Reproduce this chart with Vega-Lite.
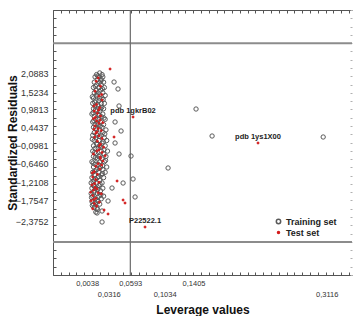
{
  "$schema": "https://vega.github.io/schema/vega-lite/v6.json",
  "width": 299,
  "height": 265,
  "autosize": {"type": "none"},
  "padding": {"left": 53, "top": 10, "right": 5, "bottom": 41},
  "background": "white",
  "config": {
    "view": {"stroke": null},
    "font": "Liberation Sans",
    "axis": {"grid": false}
  },
  "datasets": {
    "limits": [{"r": 3}, {"r": -3}],
    "hstar": [{"h": 0.0593}],
    "points": [
      {"lev": 0.020, "res": 2.10, "set": "Training set"},
      {"lev": 0.016, "res": 2.05, "set": "Training set"},
      {"lev": 0.023, "res": 2.05, "set": "Training set"},
      {"lev": 0.014, "res": 1.98, "set": "Training set"},
      {"lev": 0.019, "res": 1.98, "set": "Training set"},
      {"lev": 0.024, "res": 1.98, "set": "Training set"},
      {"lev": 0.017, "res": 1.90, "set": "Training set"},
      {"lev": 0.022, "res": 1.90, "set": "Training set"},
      {"lev": 0.013, "res": 1.82, "set": "Training set"},
      {"lev": 0.020, "res": 1.82, "set": "Training set"},
      {"lev": 0.025, "res": 1.82, "set": "Training set"},
      {"lev": 0.016, "res": 1.74, "set": "Training set"},
      {"lev": 0.022, "res": 1.74, "set": "Training set"},
      {"lev": 0.012, "res": 1.66, "set": "Training set"},
      {"lev": 0.019, "res": 1.66, "set": "Training set"},
      {"lev": 0.026, "res": 1.66, "set": "Training set"},
      {"lev": 0.015, "res": 1.58, "set": "Training set"},
      {"lev": 0.021, "res": 1.58, "set": "Training set"},
      {"lev": 0.013, "res": 1.50, "set": "Training set"},
      {"lev": 0.018, "res": 1.50, "set": "Training set"},
      {"lev": 0.024, "res": 1.50, "set": "Training set"},
      {"lev": 0.016, "res": 1.42, "set": "Training set"},
      {"lev": 0.027, "res": 1.42, "set": "Training set"},
      {"lev": 0.012, "res": 1.34, "set": "Training set"},
      {"lev": 0.020, "res": 1.34, "set": "Training set"},
      {"lev": 0.023, "res": 1.34, "set": "Training set"},
      {"lev": 0.015, "res": 1.26, "set": "Training set"},
      {"lev": 0.019, "res": 1.26, "set": "Training set"},
      {"lev": 0.011, "res": 1.18, "set": "Training set"},
      {"lev": 0.022, "res": 1.18, "set": "Training set"},
      {"lev": 0.026, "res": 1.18, "set": "Training set"},
      {"lev": 0.014, "res": 1.10, "set": "Training set"},
      {"lev": 0.018, "res": 1.10, "set": "Training set"},
      {"lev": 0.012, "res": 1.02, "set": "Training set"},
      {"lev": 0.021, "res": 1.02, "set": "Training set"},
      {"lev": 0.025, "res": 1.02, "set": "Training set"},
      {"lev": 0.016, "res": 0.94, "set": "Training set"},
      {"lev": 0.020, "res": 0.94, "set": "Training set"},
      {"lev": 0.010, "res": 0.86, "set": "Training set"},
      {"lev": 0.018, "res": 0.86, "set": "Training set"},
      {"lev": 0.024, "res": 0.86, "set": "Training set"},
      {"lev": 0.013, "res": 0.78, "set": "Training set"},
      {"lev": 0.022, "res": 0.78, "set": "Training set"},
      {"lev": 0.015, "res": 0.70, "set": "Training set"},
      {"lev": 0.019, "res": 0.70, "set": "Training set"},
      {"lev": 0.027, "res": 0.70, "set": "Training set"},
      {"lev": 0.011, "res": 0.62, "set": "Training set"},
      {"lev": 0.021, "res": 0.62, "set": "Training set"},
      {"lev": 0.014, "res": 0.54, "set": "Training set"},
      {"lev": 0.018, "res": 0.54, "set": "Training set"},
      {"lev": 0.025, "res": 0.54, "set": "Training set"},
      {"lev": 0.012, "res": 0.46, "set": "Training set"},
      {"lev": 0.023, "res": 0.46, "set": "Training set"},
      {"lev": 0.016, "res": 0.38, "set": "Training set"},
      {"lev": 0.020, "res": 0.38, "set": "Training set"},
      {"lev": 0.028, "res": 0.38, "set": "Training set"},
      {"lev": 0.013, "res": 0.30, "set": "Training set"},
      {"lev": 0.024, "res": 0.30, "set": "Training set"},
      {"lev": 0.011, "res": 0.22, "set": "Training set"},
      {"lev": 0.017, "res": 0.22, "set": "Training set"},
      {"lev": 0.022, "res": 0.22, "set": "Training set"},
      {"lev": 0.015, "res": 0.14, "set": "Training set"},
      {"lev": 0.026, "res": 0.14, "set": "Training set"},
      {"lev": 0.013, "res": 0.06, "set": "Training set"},
      {"lev": 0.019, "res": 0.06, "set": "Training set"},
      {"lev": 0.029, "res": 0.06, "set": "Training set"},
      {"lev": 0.016, "res": -0.02, "set": "Training set"},
      {"lev": 0.023, "res": -0.02, "set": "Training set"},
      {"lev": 0.012, "res": -0.10, "set": "Training set"},
      {"lev": 0.020, "res": -0.10, "set": "Training set"},
      {"lev": 0.027, "res": -0.10, "set": "Training set"},
      {"lev": 0.014, "res": -0.18, "set": "Training set"},
      {"lev": 0.018, "res": -0.18, "set": "Training set"},
      {"lev": 0.011, "res": -0.26, "set": "Training set"},
      {"lev": 0.022, "res": -0.26, "set": "Training set"},
      {"lev": 0.030, "res": -0.26, "set": "Training set"},
      {"lev": 0.015, "res": -0.34, "set": "Training set"},
      {"lev": 0.025, "res": -0.34, "set": "Training set"},
      {"lev": 0.012, "res": -0.42, "set": "Training set"},
      {"lev": 0.019, "res": -0.42, "set": "Training set"},
      {"lev": 0.028, "res": -0.42, "set": "Training set"},
      {"lev": 0.017, "res": -0.50, "set": "Training set"},
      {"lev": 0.023, "res": -0.50, "set": "Training set"},
      {"lev": 0.010, "res": -0.58, "set": "Training set"},
      {"lev": 0.020, "res": -0.58, "set": "Training set"},
      {"lev": 0.026, "res": -0.58, "set": "Training set"},
      {"lev": 0.014, "res": -0.66, "set": "Training set"},
      {"lev": 0.018, "res": -0.66, "set": "Training set"},
      {"lev": 0.012, "res": -0.74, "set": "Training set"},
      {"lev": 0.021, "res": -0.74, "set": "Training set"},
      {"lev": 0.029, "res": -0.74, "set": "Training set"},
      {"lev": 0.016, "res": -0.82, "set": "Training set"},
      {"lev": 0.024, "res": -0.82, "set": "Training set"},
      {"lev": 0.011, "res": -0.90, "set": "Training set"},
      {"lev": 0.019, "res": -0.90, "set": "Training set"},
      {"lev": 0.027, "res": -0.90, "set": "Training set"},
      {"lev": 0.014, "res": -0.98, "set": "Training set"},
      {"lev": 0.022, "res": -0.98, "set": "Training set"},
      {"lev": 0.010, "res": -1.06, "set": "Training set"},
      {"lev": 0.017, "res": -1.06, "set": "Training set"},
      {"lev": 0.025, "res": -1.06, "set": "Training set"},
      {"lev": 0.013, "res": -1.14, "set": "Training set"},
      {"lev": 0.020, "res": -1.14, "set": "Training set"},
      {"lev": 0.009, "res": -1.22, "set": "Training set"},
      {"lev": 0.016, "res": -1.22, "set": "Training set"},
      {"lev": 0.023, "res": -1.22, "set": "Training set"},
      {"lev": 0.012, "res": -1.30, "set": "Training set"},
      {"lev": 0.019, "res": -1.30, "set": "Training set"},
      {"lev": 0.010, "res": -1.38, "set": "Training set"},
      {"lev": 0.015, "res": -1.38, "set": "Training set"},
      {"lev": 0.024, "res": -1.38, "set": "Training set"},
      {"lev": 0.013, "res": -1.46, "set": "Training set"},
      {"lev": 0.021, "res": -1.46, "set": "Training set"},
      {"lev": 0.009, "res": -1.54, "set": "Training set"},
      {"lev": 0.017, "res": -1.54, "set": "Training set"},
      {"lev": 0.011, "res": -1.62, "set": "Training set"},
      {"lev": 0.019, "res": -1.62, "set": "Training set"},
      {"lev": 0.025, "res": -1.62, "set": "Training set"},
      {"lev": 0.014, "res": -1.70, "set": "Training set"},
      {"lev": 0.022, "res": -1.70, "set": "Training set"},
      {"lev": 0.010, "res": -1.78, "set": "Training set"},
      {"lev": 0.018, "res": -1.78, "set": "Training set"},
      {"lev": 0.012, "res": -1.86, "set": "Training set"},
      {"lev": 0.020, "res": -1.86, "set": "Training set"},
      {"lev": 0.013, "res": -1.96, "set": "Training set"},
      {"lev": 0.017, "res": -2.02, "set": "Training set"},
      {"lev": 0.015, "res": -2.10, "set": "Training set"},
      {"lev": 0.0175, "res": 2.01, "set": "Training set"},
      {"lev": 0.0215, "res": 1.86, "set": "Training set"},
      {"lev": 0.0145, "res": 1.70, "set": "Training set"},
      {"lev": 0.0235, "res": 1.62, "set": "Training set"},
      {"lev": 0.0165, "res": 1.46, "set": "Training set"},
      {"lev": 0.0105, "res": 1.38, "set": "Training set"},
      {"lev": 0.0245, "res": 1.30, "set": "Training set"},
      {"lev": 0.0135, "res": 1.22, "set": "Training set"},
      {"lev": 0.0175, "res": 1.14, "set": "Training set"},
      {"lev": 0.0225, "res": 1.06, "set": "Training set"},
      {"lev": 0.0145, "res": 0.98, "set": "Training set"},
      {"lev": 0.0115, "res": 0.90, "set": "Training set"},
      {"lev": 0.0195, "res": 0.82, "set": "Training set"},
      {"lev": 0.0255, "res": 0.74, "set": "Training set"},
      {"lev": 0.0125, "res": 0.66, "set": "Training set"},
      {"lev": 0.0175, "res": 0.58, "set": "Training set"},
      {"lev": 0.0205, "res": 0.50, "set": "Training set"},
      {"lev": 0.0145, "res": 0.42, "set": "Training set"},
      {"lev": 0.0265, "res": 0.26, "set": "Training set"},
      {"lev": 0.0195, "res": 0.18, "set": "Training set"},
      {"lev": 0.0105, "res": 0.10, "set": "Training set"},
      {"lev": 0.0245, "res": 0.02, "set": "Training set"},
      {"lev": 0.0165, "res": -0.06, "set": "Training set"},
      {"lev": 0.0215, "res": -0.14, "set": "Training set"},
      {"lev": 0.0255, "res": -0.22, "set": "Training set"},
      {"lev": 0.0135, "res": -0.30, "set": "Training set"},
      {"lev": 0.0205, "res": -0.38, "set": "Training set"},
      {"lev": 0.0145, "res": -0.46, "set": "Training set"},
      {"lev": 0.0275, "res": -0.54, "set": "Training set"},
      {"lev": 0.0115, "res": -0.62, "set": "Training set"},
      {"lev": 0.0235, "res": -0.70, "set": "Training set"},
      {"lev": 0.0195, "res": -0.78, "set": "Training set"},
      {"lev": 0.0135, "res": -0.86, "set": "Training set"},
      {"lev": 0.0235, "res": -0.94, "set": "Training set"},
      {"lev": 0.0185, "res": -1.02, "set": "Training set"},
      {"lev": 0.0145, "res": -1.10, "set": "Training set"},
      {"lev": 0.0115, "res": -1.18, "set": "Training set"},
      {"lev": 0.0205, "res": -1.26, "set": "Training set"},
      {"lev": 0.0135, "res": -1.34, "set": "Training set"},
      {"lev": 0.0175, "res": -1.42, "set": "Training set"},
      {"lev": 0.0125, "res": -1.50, "set": "Training set"},
      {"lev": 0.0215, "res": -1.58, "set": "Training set"},
      {"lev": 0.0095, "res": -1.66, "set": "Training set"},
      {"lev": 0.0165, "res": -1.74, "set": "Training set"},
      {"lev": 0.0145, "res": -1.82, "set": "Training set"},
      {"lev": 0.0105, "res": -1.90, "set": "Training set"},
      {"lev": 0.0384, "res": 1.826, "set": "Training set"},
      {"lev": 0.0435, "res": 1.615, "set": "Training set"},
      {"lev": 0.0448, "res": 1.102, "set": "Training set"},
      {"lev": 0.0397, "res": 0.619, "set": "Training set"},
      {"lev": 0.0474, "res": 0.347, "set": "Training set"},
      {"lev": 0.0397, "res": -0.015, "set": "Training set"},
      {"lev": 0.0448, "res": -0.347, "set": "Training set"},
      {"lev": 0.0602, "res": -0.408, "set": "Training set"},
      {"lev": 0.1078, "res": -0.770, "set": "Training set"},
      {"lev": 0.0628, "res": -1.102, "set": "Training set"},
      {"lev": 0.0500, "res": -1.223, "set": "Training set"},
      {"lev": 0.0358, "res": -1.374, "set": "Training set"},
      {"lev": 0.0654, "res": -1.645, "set": "Training set"},
      {"lev": 0.0307, "res": -1.766, "set": "Training set"},
      {"lev": 0.0166, "res": -1.977, "set": "Training set"},
      {"lev": 0.0166, "res": -2.128, "set": "Training set"},
      {"lev": 0.0230, "res": -2.068, "set": "Training set"},
      {"lev": 0.0230, "res": -2.400, "set": "Training set"},
      {"lev": 0.1437, "res": 1.011, "set": "Training set"},
      {"lev": 0.1643, "res": 0.196, "set": "Training set"},
      {"lev": 0.3070, "res": 0.166, "set": "Training set"},
      {"lev": 0.018, "res": 1.95, "set": "Test set"},
      {"lev": 0.021, "res": 1.70, "set": "Test set"},
      {"lev": 0.014, "res": 1.55, "set": "Test set"},
      {"lev": 0.019, "res": 1.40, "set": "Test set"},
      {"lev": 0.023, "res": 1.28, "set": "Test set"},
      {"lev": 0.016, "res": 1.15, "set": "Test set"},
      {"lev": 0.020, "res": 1.05, "set": "Test set"},
      {"lev": 0.013, "res": 0.95, "set": "Test set"},
      {"lev": 0.017, "res": 0.88, "set": "Test set"},
      {"lev": 0.021, "res": 0.80, "set": "Test set"},
      {"lev": 0.012, "res": 0.72, "set": "Test set"},
      {"lev": 0.016, "res": 0.65, "set": "Test set"},
      {"lev": 0.019, "res": 0.58, "set": "Test set"},
      {"lev": 0.024, "res": 0.60, "set": "Test set"},
      {"lev": 0.014, "res": 0.50, "set": "Test set"},
      {"lev": 0.018, "res": 0.42, "set": "Test set"},
      {"lev": 0.022, "res": 0.36, "set": "Test set"},
      {"lev": 0.015, "res": 0.28, "set": "Test set"},
      {"lev": 0.019, "res": 0.20, "set": "Test set"},
      {"lev": 0.023, "res": 0.12, "set": "Test set"},
      {"lev": 0.017, "res": 0.04, "set": "Test set"},
      {"lev": 0.021, "res": -0.05, "set": "Test set"},
      {"lev": 0.025, "res": -0.14, "set": "Test set"},
      {"lev": 0.019, "res": -0.22, "set": "Test set"},
      {"lev": 0.023, "res": -0.30, "set": "Test set"},
      {"lev": 0.012, "res": -0.35, "set": "Test set"},
      {"lev": 0.027, "res": -0.40, "set": "Test set"},
      {"lev": 0.021, "res": -0.48, "set": "Test set"},
      {"lev": 0.024, "res": -0.56, "set": "Test set"},
      {"lev": 0.018, "res": -0.64, "set": "Test set"},
      {"lev": 0.015, "res": -0.72, "set": "Test set"},
      {"lev": 0.020, "res": -0.80, "set": "Test set"},
      {"lev": 0.013, "res": -0.88, "set": "Test set"},
      {"lev": 0.017, "res": -0.96, "set": "Test set"},
      {"lev": 0.011, "res": -1.04, "set": "Test set"},
      {"lev": 0.015, "res": -1.12, "set": "Test set"},
      {"lev": 0.019, "res": -1.20, "set": "Test set"},
      {"lev": 0.010, "res": -1.28, "set": "Test set"},
      {"lev": 0.014, "res": -1.36, "set": "Test set"},
      {"lev": 0.012, "res": -1.44, "set": "Test set"},
      {"lev": 0.018, "res": -1.52, "set": "Test set"},
      {"lev": 0.022, "res": -1.55, "set": "Test set"},
      {"lev": 0.011, "res": -1.60, "set": "Test set"},
      {"lev": 0.015, "res": -1.68, "set": "Test set"},
      {"lev": 0.009, "res": -1.76, "set": "Test set"},
      {"lev": 0.013, "res": -1.84, "set": "Test set"},
      {"lev": 0.016, "res": -1.92, "set": "Test set"},
      {"lev": 0.011, "res": -2.00, "set": "Test set"},
      {"lev": 0.0155, "res": 1.85, "set": "Test set"},
      {"lev": 0.0225, "res": 1.45, "set": "Test set"},
      {"lev": 0.0125, "res": 1.10, "set": "Test set"},
      {"lev": 0.0185, "res": 0.98, "set": "Test set"},
      {"lev": 0.0145, "res": 0.76, "set": "Test set"},
      {"lev": 0.0205, "res": 0.68, "set": "Test set"},
      {"lev": 0.0125, "res": 0.40, "set": "Test set"},
      {"lev": 0.0165, "res": 0.32, "set": "Test set"},
      {"lev": 0.0135, "res": 0.16, "set": "Test set"},
      {"lev": 0.0195, "res": -0.10, "set": "Test set"},
      {"lev": 0.0165, "res": -0.26, "set": "Test set"},
      {"lev": 0.0205, "res": -0.44, "set": "Test set"},
      {"lev": 0.0225, "res": -0.68, "set": "Test set"},
      {"lev": 0.0105, "res": -0.92, "set": "Test set"},
      {"lev": 0.0135, "res": -1.24, "set": "Test set"},
      {"lev": 0.0165, "res": -1.40, "set": "Test set"},
      {"lev": 0.0085, "res": -1.50, "set": "Test set"},
      {"lev": 0.0125, "res": -1.72, "set": "Test set"},
      {"lev": 0.0195, "res": -1.80, "set": "Test set"},
      {"lev": 0.0333, "res": 2.219, "set": "Test set"},
      {"lev": 0.0384, "res": 0.166, "set": "Test set"},
      {"lev": 0.0628, "res": 0.770, "set": "Test set", "label": "pdb 1gkrB02"},
      {"lev": 0.0423, "res": -1.162, "set": "Test set"},
      {"lev": 0.0500, "res": -1.736, "set": "Test set"},
      {"lev": 0.0525, "res": -1.826, "set": "Test set"},
      {"lev": 0.0256, "res": -2.038, "set": "Test set"},
      {"lev": 0.0307, "res": -2.158, "set": "Test set"},
      {"lev": 0.0782, "res": -2.551, "set": "Test set", "label": "P22522.1"},
      {"lev": 0.2233, "res": -0.015, "set": "Test set", "label": "pdb 1ys1X00"}
    ]
  },
  "layer": [
    {
      "data": {"name": "limits"},
      "mark": {"type": "rule", "color": "#8c8c8c", "strokeWidth": 2},
      "encoding": {
        "y": {
          "field": "r", "type": "quantitative",
          "scale": {"domain": [-4, 4], "nice": false, "zero": false},
          "axis": {
            "orient": "right", "title": null, "labels": false, "domain": false,
            "tickColor": "#b0b0b0", "tickSize": -2,
            "values": [-4, -3.75, -3.5, -3.25, -3, -2.75, -2.5, -2.25, -2, -1.75, -1.5, -1.25, -1, -0.75, -0.5, -0.25, 0, 0.25, 0.5, 0.75, 1, 1.25, 1.5, 1.75, 2, 2.25, 2.5, 2.75, 3, 3.25, 3.5, 3.75, 4]
          }
        }
      }
    },
    {
      "data": {"name": "hstar"},
      "mark": {"type": "rule", "color": "#6a6a6a", "strokeWidth": 1.2},
      "encoding": {
        "x": {
          "field": "h", "type": "quantitative",
          "scale": {"domain": [-0.04, 0.344], "nice": false, "zero": false},
          "axis": {
            "orient": "top", "title": null, "labels": false,
            "domainColor": "#555", "tickColor": "#555", "tickSize": -3,
            "values": [-0.04, -0.03, -0.02, -0.01, 0, 0.01, 0.02, 0.03, 0.04, 0.05, 0.06, 0.07, 0.08, 0.09, 0.1, 0.11, 0.12, 0.13, 0.14, 0.15, 0.16, 0.17, 0.18, 0.19, 0.2, 0.21, 0.22, 0.23, 0.24, 0.25, 0.26, 0.27, 0.28, 0.29, 0.3, 0.31, 0.32, 0.33, 0.34]
          }
        }
      }
    },
    {
      "data": {"name": "points"},
      "mark": {"type": "point", "shape": "circle", "strokeWidth": 1, "opacity": 1},
      "encoding": {
        "x": {
          "field": "lev", "type": "quantitative",
          "scale": {"domain": [-0.04, 0.344], "nice": false, "zero": false},
          "axis": {
            "orient": "bottom",
            "title": "Leverage values",
            "titleFontSize": 12, "titleFontWeight": "bold", "titleColor": "#111",
            "titlePadding": 7,
            "values": [-0.04, -0.03, -0.02, -0.01, 0, 0.01, 0.02, 0.03, 0.04, 0.05, 0.06, 0.07, 0.08, 0.09, 0.1, 0.11, 0.12, 0.13, 0.14, 0.15, 0.16, 0.17, 0.18, 0.19, 0.2, 0.21, 0.22, 0.23, 0.24, 0.25, 0.26, 0.27, 0.28, 0.29, 0.3, 0.31, 0.32, 0.33, 0.34, 0.0038, 0.0316, 0.0593, 0.1034, 0.1405, 0.3116],
            "labelExpr": "indexof([0.0038, 0.0316, 0.0593, 0.1034, 0.1405, 0.3116], datum.value) >= 0 ? replace(format(datum.value, '.4f'), '.', ',') : ''",
            "labelFontSize": 7.5, "labelColor": "#333",
            "labelOverlap": false, "labelFlush": false,
            "labelPadding": {"condition": {"test": "indexof([0.0316, 0.1034, 0.3116], datum.value) >= 0", "value": 15}, "value": 4},
            "tickSize": {"condition": {"test": "indexof([0.0038, 0.0316, 0.0593, 0.1034, 0.1405, 0.3116], datum.value) >= 0", "value": 0}, "value": -3},
            "tickColor": "#555", "domainColor": "#555"
          }
        },
        "y": {
          "field": "res", "type": "quantitative",
          "scale": {"domain": [-4, 4], "nice": false, "zero": false},
          "axis": {
            "orient": "left",
            "title": "Standardized Residuals",
            "titleFontSize": 12, "titleFontWeight": "bold", "titleColor": "#111",
            "titlePadding": -4,
            "values": [-4, -3.75, -3.5, -3.25, -3, -2.75, -2.5, -2.25, -2, -1.75, -1.5, -1.25, -1, -0.75, -0.5, -0.25, 0, 0.25, 0.5, 0.75, 1, 1.25, 1.5, 1.75, 2, 2.25, 2.5, 2.75, 3, 3.25, 3.5, 3.75, 4, 2.0883, 1.5234, 0.9813, 0.4437, -0.0981, -0.646, -1.2108, -1.7547, -2.3752],
            "labelExpr": "indexof([2.0883, 1.5234, 0.9813, 0.4437, -0.0981, -0.646, -1.2108, -1.7547, -2.3752], datum.value) >= 0 ? replace(format(datum.value, '.4f'), '.', ',') : ''",
            "labelFontSize": 9, "labelColor": "#333",
            "labelOverlap": false, "labelFlush": false,
            "labelPadding": 5,
            "tickSize": {"condition": {"test": "indexof([2.0883, 1.5234, 0.9813, 0.4437, -0.0981, -0.646, -1.2108, -1.7547, -2.3752], datum.value) >= 0", "value": 0}, "value": -3},
            "tickColor": "#555", "domainColor": "#555"
          }
        },
        "fill": {
          "field": "set", "type": "nominal",
          "scale": {"domain": ["Training set", "Test set"], "range": ["transparent", "#d41c1c"]},
          "legend": {
            "title": null, "orient": "none", "legendX": 221, "legendY": 207,
            "labelFontSize": 9, "labelFontWeight": "bold", "labelColor": "#222",
            "rowPadding": 1, "padding": 0, "labelOffset": 3
          }
        },
        "stroke": {
          "field": "set", "type": "nominal",
          "scale": {"domain": ["Training set", "Test set"], "range": ["#5a5a5a", "#d41c1c"]}
        },
        "size": {
          "field": "set", "type": "nominal",
          "scale": {"domain": ["Training set", "Test set"], "range": [19, 4]}
        }
      }
    },
    {
      "data": {"name": "points"},
      "transform": [{"filter": "datum.label != null"}],
      "mark": {"type": "text", "font": "Liberation Sans", "fontSize": 7.5, "fontWeight": "bold", "color": "#222", "dy": -6, "baseline": "middle"},
      "encoding": {
        "x": {"field": "lev", "type": "quantitative", "scale": {"domain": [-0.04, 0.344], "nice": false, "zero": false}, "axis": null},
        "y": {"field": "res", "type": "quantitative", "scale": {"domain": [-4, 4], "nice": false, "zero": false}, "axis": null},
        "text": {"field": "label"}
      }
    }
  ],
  "resolve": {"axis": {"x": "independent", "y": "independent"}}
}
